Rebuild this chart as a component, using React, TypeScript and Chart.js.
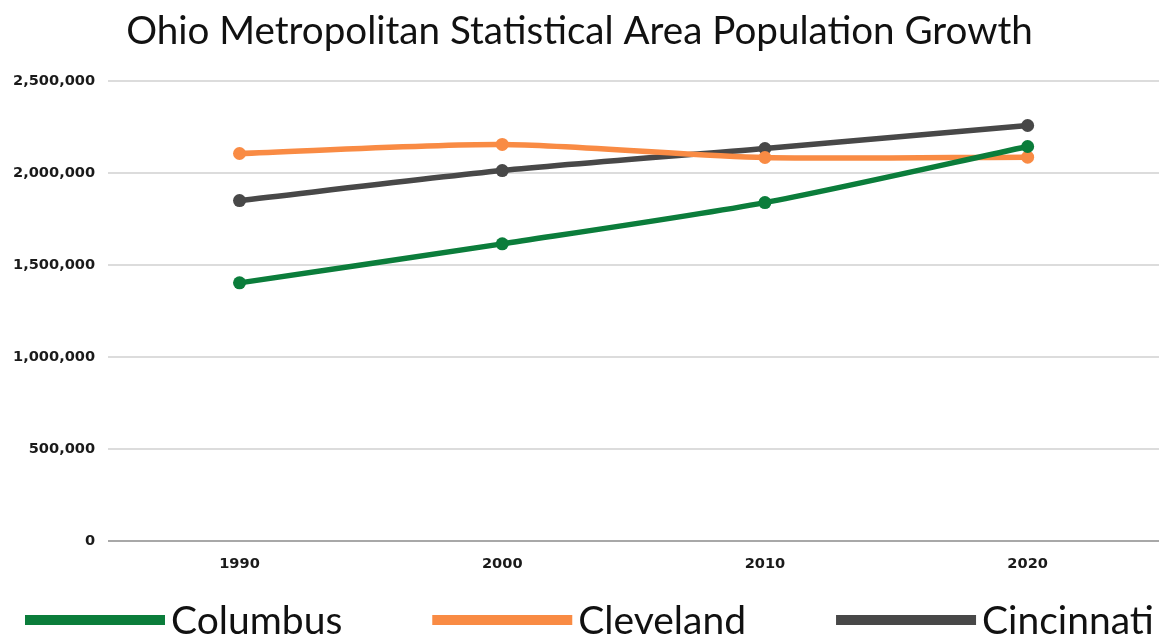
import React, { useEffect, useRef } from 'react';
import { Chart, registerables } from 'chart.js';

Chart.register(...registerables);

const years = ['1990', '2000', '2010', '2020'];
const columbus = [1405000, 1617000, 1841000, 2146000];
const cleveland = [2108000, 2157000, 2086000, 2088000];
const cincinnati = [1852000, 2015000, 2135000, 2260000];
const seriesNames = ['Columbus', 'Cleveland', 'Cincinnati'];
const seriesColors = ['#0b7d3b', '#f98b44', '#484848'];
const titleText = 'Ohio Metropolitan Statistical Area Population Growth';

const LEGEND_FONT = '39px Lato';

const legendPlugin = {
  id: 'customLegend',
  afterDraw(chart: any) {
    const ctx = chart.ctx;
    ctx.save();
    ctx.font = LEGEND_FONT;
    ctx.textBaseline = 'middle';
    ctx.textAlign = 'left';
    let x = 25;
    const yc = 620;
    chart.data.datasets.forEach((ds: any) => {
      ctx.fillStyle = ds.borderColor;
      ctx.fillRect(x, yc - 5, 140, 10);
      x += 146;
      ctx.fillStyle = '#111111';
      ctx.fillText(ds.label, x, yc + 1);
      x += ctx.measureText(ds.label).width + 90;
    });
    ctx.restore();
  },
};

export default function App() {
  const ref = useRef<HTMLCanvasElement | null>(null);
  useEffect(() => {
    document.body.style.margin = '0';
    const canvas = ref.current;
    if (!canvas) return;
    const data = [columbus, cleveland, cincinnati];
    const chart = new Chart(canvas, {
      type: 'line',
      data: {
        labels: years,
        datasets: data.map((d, i) => ({
          label: seriesNames[i],
          data: d,
          borderColor: seriesColors[i],
          backgroundColor: seriesColors[i],
          borderWidth: 5.5,
          pointRadius: 6.5,
          pointBorderWidth: 0,
          pointBackgroundColor: seriesColors[i],
          tension: 0.25,
        })),
      },
      options: {
        animation: false,
        responsive: false,
        maintainAspectRatio: false,
        layout: { padding: { left: 0, right: 15, bottom: 54, top: 0 } },
        plugins: {
          legend: { display: false },
          tooltip: { enabled: false },
          title: {
            display: true,
            text: titleText,
            color: '#111111',
            font: { family: 'Lato', size: 38.6, weight: 'normal' },
            padding: { top: 8, bottom: 27 },
          },
        },
        scales: {
          x: {
            offset: true,
            grid: { display: false, drawTicks: false },
            border: { display: false },
            ticks: {
              color: '#1a1a1a',
              padding: 14,
              font: { family: 'DejaVu Sans', size: 14.6, weight: 'bold' },
            },
          },
          y: {
            min: 0,
            max: 2500000,
            grid: {
              drawTicks: false,
              lineWidth: 2,
              color: (c: any) => (c.tick && c.tick.value === 0 ? '#a8a8a8' : '#dcdcdc'),
            },
            border: { display: false },
            ticks: {
              stepSize: 500000,
              color: '#1a1a1a',
              padding: 13,
              font: { family: 'DejaVu Sans', size: 14.6, weight: 'bold' },
              callback: (v: any) => Number(v).toLocaleString('en-US'),
            },
          },
        },
      },
      plugins: [legendPlugin],
    });
    return () => chart.destroy();
  }, []);
  return (
    <div style={{ width: 1174, height: 641, background: '#ffffff' }}>
      <canvas ref={ref} width={1174} height={641} style={{ display: 'block' }} />
    </div>
  );
}
